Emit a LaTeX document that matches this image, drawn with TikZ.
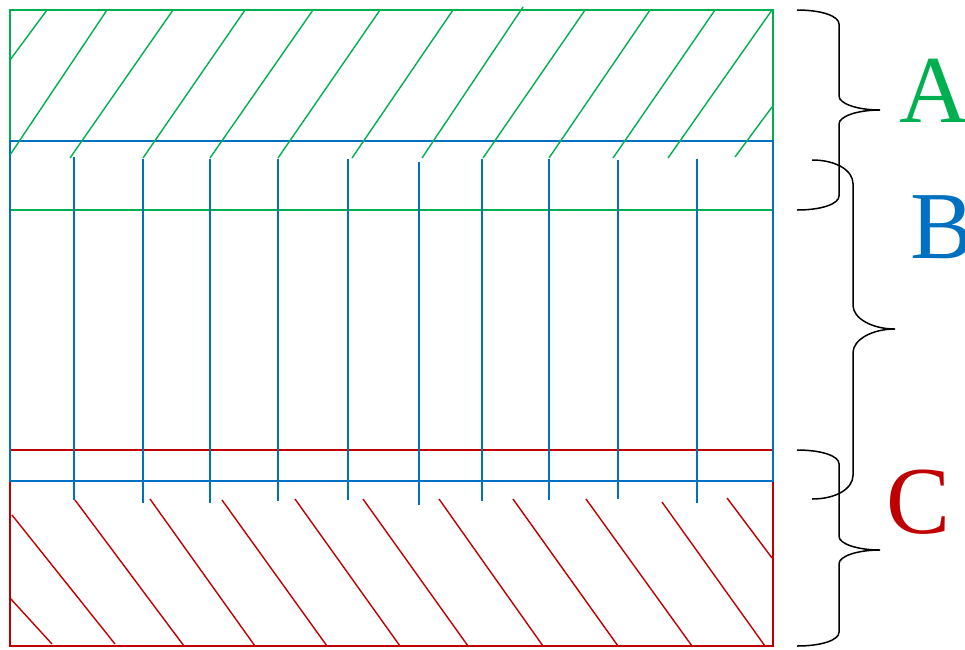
\documentclass[tikz,border=0pt]{standalone}
\usepackage{fontspec}
\setmainfont{Liberation Serif}
\definecolor{zoneA}{RGB}{0,176,80}
\definecolor{zoneB}{RGB}{0,112,192}
\definecolor{zoneC}{RGB}{192,0,0}
\usetikzlibrary{calc}
\tikzset{
    frame green/.style={draw=zoneA, line width=1.5pt},
    frame blue/.style={draw=zoneB, line width=1.5pt},
    frame red/.style={draw=zoneC, line width=1.5pt},
    hatch green/.style={draw=zoneA, line width=1.4pt},
    hatch blue/.style={draw=zoneB, line width=1.4pt},
    hatch red/.style={draw=zoneC, line width=1.4pt},
    brace line/.style={draw=black, line width=1.5pt},
    zone label/.style={inner sep=0pt, anchor=base, font=\fontsize{96}{96}\selectfont},
}
% #1 x of ends, #2 x of stem, #3 x of tip, #4 y top, #5 y tip, #6 y bottom
\newcommand{\curlybrace}[6]{%
    \pgfmathsetmacro\bro{0.07*(#6-#4)}
    \draw[brace line] (#1,#4) .. controls ({#1+0.6*(#2-#1)},#4) and (#2,{#4+0.45*\bro}) .. (#2,{#4+\bro})
        -- (#2,{#5-\bro}) .. controls (#2,{#5-0.45*\bro}) and ({#2+0.45*(#3-#2)},#5) .. (#3,#5)
        .. controls ({#2+0.45*(#3-#2)},#5) and (#2,{#5+0.45*\bro}) .. (#2,{#5+\bro})
        -- (#2,{#6-\bro}) .. controls (#2,{#6-0.45*\bro}) and ({#1+0.6*(#2-#1)},#6) .. (#1,#6);
}

\begin{document}
\begin{tikzpicture}[x=1pt, y=-1pt]
\useasboundingbox (0,0) rectangle (965,649);
% zone frames
\draw[frame green] (10,10) rectangle (773,210);
\draw[frame red] (10,450) rectangle (773,646);
\draw[frame blue] (10,141) rectangle (773,481);
% zone A hatching
\foreach \xa/\ya/\xb/\yb in {47/10/10/60, 107/10/10/155, 173/10/70/158, 245/10/143/158,
    313/10/210/158, 380/10/278/158, 453/10/352/158, 523/7/422/158, 585/10/483/158,
    650/10/549/158, 715/10/613/158, 772/10/668/158, 772/107/735/157}
    \draw[hatch green] (\xa,\ya) -- (\xb,\yb);
% zone B hatching
\foreach \xa/\ya/\yb in {74/157/500, 143/159/503, 210/159/503, 278/159/501, 348/159/500,
    419/162/505, 482/159/501, 549/159/500, 618/160/499, 697/159/503}
    \draw[hatch blue] (\xa,\ya) -- (\xa,\yb);
% zone C hatching
\foreach \xa/\ya/\xb/\yb in {10/598/52/644, 12/515/115/644, 75/500/184/646, 150/499/255/646,
    222/500/327/646, 295/499/400/646, 363/499/468/646, 439/499/543/646, 513/499/618/646,
    586/499/692/646, 662/502/765/646, 727/498/772/558}
    \draw[hatch red] (\xa,\ya) -- (\xb,\yb);
% braces
\curlybrace{797}{839}{880}{10}{110}{210}
\curlybrace{812}{853}{895}{160}{329}{499}
\curlybrace{797}{839}{880}{450}{550}{646}
% labels
\node[zone label, zoneA] (labA) at (934,122) {A};
\node[zone label, zoneB] (labB) at (942,258) {B};
\node[zone label, zoneC] (labC) at (918,533) {C};
\end{tikzpicture}
\end{document}
